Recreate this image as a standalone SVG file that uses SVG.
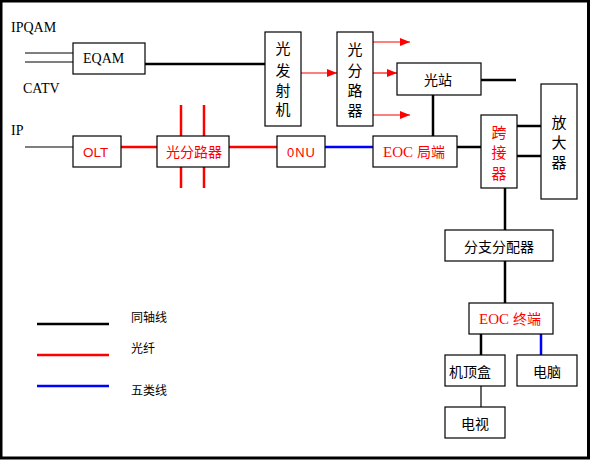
<svg xmlns="http://www.w3.org/2000/svg" width="590" height="460" viewBox="0 0 590 460">
<style>
.box{fill:#fff;stroke:#000;stroke-width:1.2}
.coax{stroke:#000;stroke-width:2.5;fill:none}
.thin{stroke:#000;stroke-width:1.2;fill:none}
.fiber{stroke:#f00;stroke-width:2.5;fill:none}
.fib1{stroke:#f00;stroke-width:1.2;fill:none}
.cat5{stroke:#00f;stroke-width:2.5;fill:none}
.serif{font-family:"Liberation Serif","Times New Roman",serif;font-size:14px;fill:#000}
.cjk{font-family:"Liberation Sans","Noto Sans CJK SC",sans-serif;font-size:14px;fill:#000}
.v{font-family:"Noto Sans CJK SC",sans-serif;font-size:15px;fill:#000;text-anchor:middle}
.red{fill:#f00}
.mid{text-anchor:middle}
.eoc{font-family:"Liberation Serif","Times New Roman",serif;font-size:15px;fill:#f00}
.eocz{font-family:"Noto Sans CJK SC",sans-serif;font-size:14px;fill:#f00}
</style>
<defs>
<marker id="arr" viewBox="0 0 10 8" refX="10" refY="4" markerWidth="10" markerHeight="8" markerUnits="userSpaceOnUse" orient="auto">
<path d="M0,0 L10,4 L0,8 z" fill="#f00"/>
</marker>
</defs>
<rect x="1" y="1" width="587.5" height="457" fill="#fff" stroke="#000" stroke-width="3"/>

<g id="connectors">
<line class="thin" x1="25" y1="53" x2="73" y2="53"/>
<line class="thin" x1="25" y1="62" x2="73" y2="62"/>
<line class="coax" x1="145" y1="64" x2="265" y2="64"/>
<line class="fib1" x1="301" y1="73" x2="337" y2="73" marker-end="url(#arr)"/>
<line class="fib1" x1="373" y1="42" x2="410" y2="42" marker-end="url(#arr)"/>
<line class="fib1" x1="373" y1="73" x2="397" y2="73" marker-end="url(#arr)"/>
<line class="fib1" x1="373" y1="115" x2="410" y2="115" marker-end="url(#arr)"/>
<line class="coax" x1="481" y1="80" x2="516" y2="80"/>
<line class="coax" x1="433" y1="95" x2="433" y2="136"/>
<line class="thin" x1="25" y1="147" x2="73" y2="147"/>
<line class="fiber" x1="121" y1="147" x2="157" y2="147"/>
<line class="fiber" x1="181" y1="105" x2="181" y2="136"/>
<line class="fiber" x1="204" y1="105" x2="204" y2="136"/>
<line class="fiber" x1="181" y1="167" x2="181" y2="188"/>
<line class="fiber" x1="204" y1="167" x2="204" y2="188"/>
<line class="fiber" x1="229" y1="147" x2="277" y2="147"/>
<line class="cat5" x1="325" y1="147" x2="373" y2="147"/>
<line class="coax" x1="457" y1="147" x2="481" y2="147"/>
<line class="coax" x1="517" y1="126" x2="541" y2="126"/>
<line class="coax" x1="517" y1="156" x2="541" y2="156"/>
<line class="coax" x1="505" y1="188" x2="505" y2="230"/>
<line class="coax" x1="505" y1="261" x2="505" y2="303"/>
<line class="coax" x1="481" y1="334" x2="481" y2="355"/>
<line class="cat5" x1="541" y1="334" x2="541" y2="355"/>
<line class="thin" x1="481" y1="386" x2="481" y2="407"/>
</g>

<g id="labels">
<text class="serif" x="11" y="32">IPQAM</text>
<text class="serif" x="23" y="93">CATV</text>
<text class="serif" x="11" y="135">IP</text>
</g>

<g id="eqam"><rect class="box" x="73" y="43" width="72" height="31"/><text class="serif" x="83" y="63">EQAM</text></g>

<g id="tx"><rect class="box" x="265" y="32" width="36" height="94"/>
<text class="v" x="283" y="54">光</text><text class="v" x="283" y="76">发</text><text class="v" x="283" y="96">射</text><text class="v" x="283" y="115">机</text></g>

<g id="splitter1"><rect class="box" x="337" y="32" width="36" height="94"/>
<text class="v" x="355" y="55">光</text><text class="v" x="355" y="76">分</text><text class="v" x="355" y="96">路</text><text class="v" x="355" y="116">器</text></g>

<g id="station"><rect class="box" x="397" y="63" width="84" height="32"/><text class="cjk mid" x="438" y="85">光站</text></g>

<g id="olt"><rect class="box" x="73" y="136" width="48" height="31"/><text class="cjk red" x="83" y="157" style="font-size:13.5px">OLT</text></g>

<g id="splitter2"><rect class="box" x="157" y="136" width="72" height="31"/><text class="cjk red mid" x="194" y="157">光分路器</text></g>

<g id="onu"><rect class="box" x="277" y="136" width="48" height="31"/><text class="cjk red" x="287" y="157" style="font-size:13px;letter-spacing:1px">0NU</text></g>

<g id="eoc-head"><rect class="box" x="373" y="136" width="84" height="31"/><text class="eoc" x="383" y="157">EOC<tspan class="eocz" dx="4">局端</tspan></text></g>

<g id="crossover"><rect class="box" x="481" y="115" width="36" height="73"/>
<text class="v red" x="499" y="138">跨</text><text class="v red" x="499" y="158">接</text><text class="v red" x="499" y="179">器</text></g>

<g id="amp"><rect class="box" x="541" y="84" width="36" height="115"/>
<text class="v" x="559" y="128">放</text><text class="v" x="559" y="148">大</text><text class="v" x="559" y="168">器</text></g>

<g id="distributor"><rect class="box" x="445" y="230" width="108" height="31"/><text class="cjk mid" x="499" y="252">分支分配器</text></g>

<g id="eoc-term"><rect class="box" x="469" y="303" width="84" height="31"/><text class="eoc" x="479" y="324">EOC<tspan class="eocz" dx="4">终端</tspan></text></g>

<g id="stb"><rect class="box" x="445" y="355" width="60" height="31"/><text class="cjk mid" x="470" y="377">机顶盒</text></g>
<g id="pc"><rect class="box" x="517" y="355" width="60" height="31"/><text class="cjk mid" x="547" y="377">电脑</text></g>
<g id="tv"><rect class="box" x="445" y="407" width="60" height="31"/><text class="cjk mid" x="475" y="429">电视</text></g>

<g id="legend">
<line class="coax" x1="37" y1="324" x2="109" y2="324"/>
<line class="fiber" x1="37" y1="355" x2="109" y2="355"/>
<line class="cat5" x1="37" y1="386" x2="109" y2="386"/>
<text class="cjk" x="131" y="322" style="font-size:12px">同轴线</text>
<text class="cjk" x="131" y="353" style="font-size:12px">光纤</text>
<text class="cjk" x="131" y="395" style="font-size:12px">五类线</text>
</g>
</svg>
